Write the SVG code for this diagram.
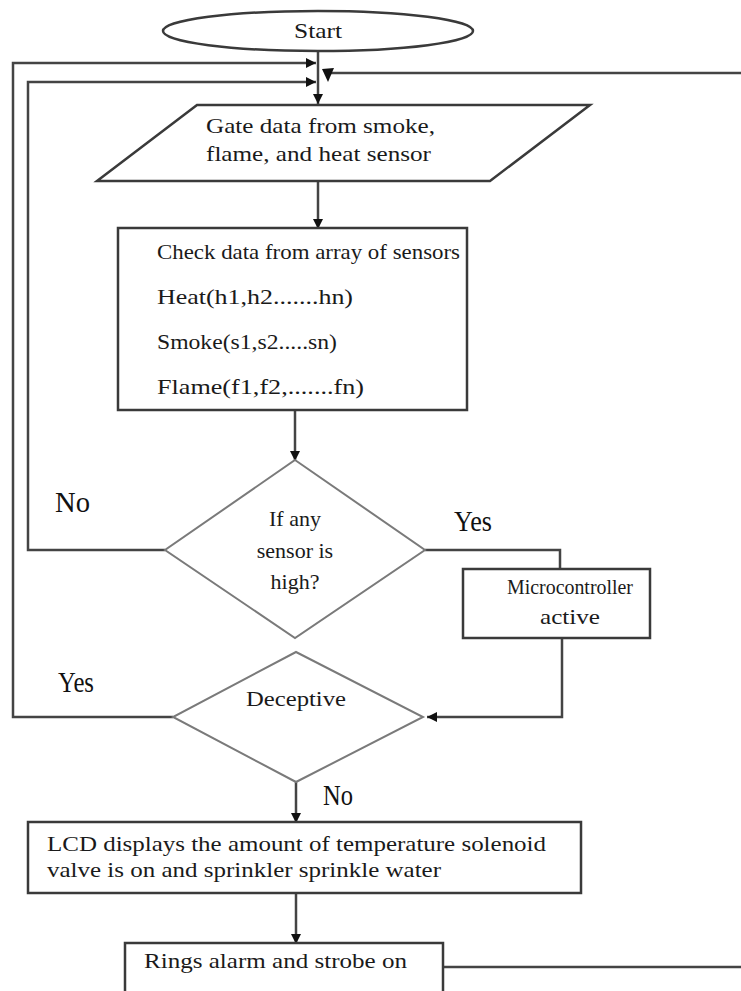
<svg xmlns="http://www.w3.org/2000/svg" width="741" height="991" viewBox="0 0 741 991">
<style>
  .bg{fill:#ffffff}
  .node{fill:#ffffff;stroke:#3a3a3a;stroke-width:2.5}
  .dia{fill:#ffffff;stroke:#7a7a7a;stroke-width:2}
  .con{fill:none;stroke:#444444;stroke-width:2.5}
  .t{font-family:"Liberation Serif","Times New Roman",serif;fill:#1a1a1a;font-size:22px}
  .lbl{font-family:"Liberation Serif","Times New Roman",serif;fill:#111111;font-size:29px}
  .head{fill:#111111}
</style>
<defs>
  <marker id="arr" viewBox="0 0 10 10" refX="10" refY="5" markerWidth="4.4" markerHeight="4" orient="auto" markerUnits="strokeWidth">
    <path d="M0,0 L10,5 L0,10 Z" class="head"/>
  </marker>
</defs>
<rect class="bg" x="0" y="0" width="741" height="991"/>

<g id="connectors">
  <line class="con" x1="318" y1="52" x2="318" y2="104" marker-end="url(#arr)"/>
  <polyline class="con" points="173,717 13,717 13,63 316,63" marker-end="url(#arr)"/>
  <polyline class="con" points="165,550 28,550 28,82 316,82" marker-end="url(#arr)"/>
  <path class="con" d="M443,967 H745 M745,73 H330"/>
  <polygon class="head" points="322,69 334,68 328,82"/>
  <line class="con" x1="318" y1="181" x2="318" y2="229" marker-end="url(#arr)"/>
  <line class="con" x1="295" y1="410" x2="295" y2="461" marker-end="url(#arr)"/>
  <polyline class="con" points="425,550 560,550 560,569"/>
  <polyline class="con" points="562,638 562,717 427,717" marker-end="url(#arr)"/>
  <line class="con" x1="296" y1="782" x2="296" y2="823" marker-end="url(#arr)"/>
  <line class="con" x1="296" y1="893" x2="296" y2="944" marker-end="url(#arr)"/>
</g>

<g id="start">
  <ellipse class="node" cx="318" cy="31" rx="155" ry="20" stroke-width="2"/>
  <text class="t" x="318" y="38" text-anchor="middle" textLength="48" lengthAdjust="spacingAndGlyphs">Start</text>
</g>

<g id="gate">
  <polygon class="node" points="197,105 590,105 490,181 97,181"/>
  <text class="t" x="206" y="133" textLength="229" lengthAdjust="spacingAndGlyphs">Gate data from smoke,</text>
  <text class="t" x="206" y="161" textLength="225" lengthAdjust="spacingAndGlyphs">flame, and heat sensor</text>
</g>

<g id="check">
  <rect class="node" x="118" y="228" width="349" height="182"/>
  <text class="t" x="157" y="259" textLength="303" lengthAdjust="spacingAndGlyphs">Check data from array of sensors</text>
  <text class="t" x="157" y="304" textLength="196" lengthAdjust="spacingAndGlyphs">Heat(h1,h2.......hn)</text>
  <text class="t" x="157" y="349" textLength="180" lengthAdjust="spacingAndGlyphs">Smoke(s1,s2.....sn)</text>
  <text class="t" x="157" y="394" textLength="207" lengthAdjust="spacingAndGlyphs">Flame(f1,f2,.......fn)</text>
</g>

<g id="decision1">
  <polygon class="dia" points="295,460 425,550 295,638 165,550"/>
  <text class="t" x="295" y="526" text-anchor="middle">If any</text>
  <text class="t" x="295" y="558" text-anchor="middle">sensor is</text>
  <text class="t" x="295" y="589" text-anchor="middle">high?</text>
</g>

<g id="micro">
  <rect class="node" x="463" y="569" width="187" height="69"/>
  <text class="t" x="570" y="594" text-anchor="middle" textLength="126" lengthAdjust="spacingAndGlyphs">Microcontroller</text>
  <text class="t" x="570" y="624" text-anchor="middle" textLength="60" lengthAdjust="spacingAndGlyphs">active</text>
</g>

<g id="decision2">
  <polygon class="dia" points="296,652 423,717 296,782 173,717"/>
  <text class="t" x="296" y="706" text-anchor="middle" textLength="100" lengthAdjust="spacingAndGlyphs">Deceptive</text>
</g>

<g id="lcd">
  <rect class="node" x="28" y="822" width="553" height="71"/>
  <text class="t" x="47" y="851" textLength="499" lengthAdjust="spacingAndGlyphs">LCD displays the amount of temperature solenoid</text>
  <text class="t" x="47" y="877" textLength="394" lengthAdjust="spacingAndGlyphs">valve is on and sprinkler sprinkle water</text>
</g>

<g id="rings">
  <rect class="node" x="125" y="943" width="318" height="60"/>
  <text class="t" x="144" y="968" textLength="263" lengthAdjust="spacingAndGlyphs">Rings alarm and strobe on</text>
</g>

<g id="labels">
  <text class="lbl" x="55" y="512" textLength="35" lengthAdjust="spacingAndGlyphs">No</text>
  <text class="lbl" x="454" y="531" textLength="38" lengthAdjust="spacingAndGlyphs">Yes</text>
  <text class="lbl" x="58" y="692" textLength="36" lengthAdjust="spacingAndGlyphs">Yes</text>
  <text class="lbl" x="323" y="805" textLength="30" lengthAdjust="spacingAndGlyphs">No</text>
</g>
</svg>
